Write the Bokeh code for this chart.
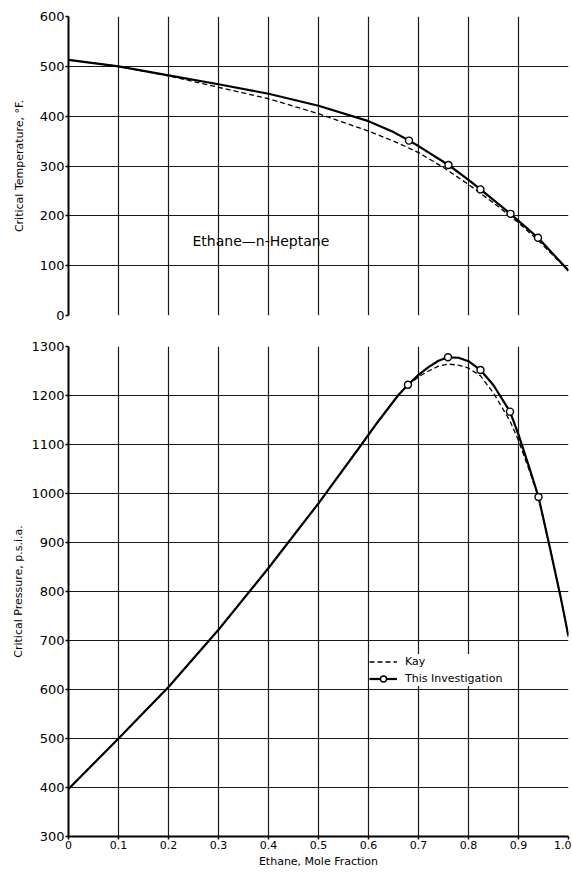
from bokeh.plotting import figure
from bokeh.layouts import column
from bokeh.models import FixedTicker, Legend, LegendItem, Label, Range1d
from bokeh.embed import file_html
from bokeh.resources import INLINE

FONT = "DejaVu Sans"

# ---- axis ticks / labels ----
x_ticks = [0, 0.1, 0.2, 0.3, 0.4, 0.5, 0.6, 0.7, 0.8, 0.9, 1.0]
x_tick_labels = ["0", "0.1", "0.2", "0.3", "0.4", "0.5", "0.6", "0.7", "0.8", "0.9", "1.0"]
x_grid_ticks = [0.1, 0.2, 0.3, 0.4, 0.5, 0.6, 0.7, 0.8, 0.9, 1.0]
t_ticks = [0, 100, 200, 300, 400, 500, 600]
t_grid_ticks = [100, 200, 300, 400, 500, 600]
p_ticks = [300, 400, 500, 600, 700, 800, 900, 1000, 1100, 1200, 1300]
p_grid_ticks = [400, 500, 600, 700, 800, 900, 1000, 1100, 1200]

# ---- critical temperature, deg F ----
t_this_x = [0, 0.1, 0.2, 0.3, 0.4, 0.5, 0.6, 0.65, 0.681, 0.7, 0.76, 0.8, 0.824, 0.884, 0.939, 1.0]
t_this_y = [513, 500, 482, 464, 445, 421, 390, 368, 351, 340, 302, 272, 253, 204, 156, 90]
t_pts_x = [0.681, 0.76, 0.824, 0.884, 0.939]
t_pts_y = [351, 302, 253, 204, 156]
t_kay_x = [0, 0.1, 0.2, 0.3, 0.4, 0.5, 0.6, 0.65, 0.7, 0.75, 0.8, 0.85, 0.9, 0.94, 1.0]
t_kay_y = [513, 500, 481, 458, 435, 405, 370, 350, 327, 297, 263, 226, 186, 150, 90]

# ---- critical pressure, psia ----
p_this_x = [0, 0.1, 0.2, 0.3, 0.4, 0.5, 0.586, 0.62, 0.659, 0.679, 0.7, 0.72, 0.74, 0.759,
            0.78, 0.8, 0.824, 0.85, 0.883, 0.9, 0.92, 0.94, 0.962, 0.984, 1.0]
p_this_y = [397, 500, 605, 722, 848, 980, 1100, 1148, 1200, 1222, 1242, 1258, 1271, 1278,
            1277, 1270, 1252, 1221, 1167, 1120, 1058, 993, 893, 790, 708]
p_pts_x = [0.679, 0.759, 0.824, 0.883, 0.94]
p_pts_y = [1222, 1278, 1252, 1167, 993]
p_kay_x = [0, 0.1, 0.2, 0.3, 0.4, 0.5, 0.586, 0.62, 0.659, 0.679, 0.7, 0.72, 0.74, 0.76,
           0.78, 0.8, 0.824, 0.85, 0.883, 0.9, 0.92, 0.94, 0.962, 0.984, 1.0]
p_kay_y = [397, 500, 605, 722, 848, 980, 1100, 1148, 1200, 1222, 1238, 1250, 1260, 1264,
           1262, 1256, 1240, 1205, 1148, 1108, 1052, 993, 893, 790, 708]


def style(p, yticks, ygrid, ylabel, label_standoff):
    p.outline_line_color = None
    p.background_fill_color = "white"
    p.border_fill_color = "white"
    p.xgrid.ticker = FixedTicker(ticks=x_grid_ticks)
    p.ygrid.ticker = FixedTicker(ticks=ygrid)
    for g in (p.xgrid, p.ygrid):
        g.grid_line_color = "black"
        g.grid_line_width = 1.2
        g.grid_line_alpha = 0.9
    ax = p.yaxis[0]
    ax.ticker = FixedTicker(ticks=yticks)
    ax.axis_line_color = "black"
    ax.axis_line_width = 2
    ax.major_tick_out = 3
    ax.major_tick_in = 0
    ax.minor_tick_out = 0
    ax.minor_tick_in = 0
    ax.major_tick_line_width = 1.5
    ax.major_label_standoff = 1
    ax.major_label_text_font = FONT
    ax.major_label_text_font_size = "13px"
    ax.major_label_text_color = "black"
    ax.axis_label = ylabel
    ax.axis_label_text_font = FONT
    ax.axis_label_text_font_size = "11px"
    ax.axis_label_text_font_style = "normal"
    ax.axis_label_text_color = "black"
    ax.axis_label_standoff = label_standoff


# ---------------- top: temperature ----------------
top = figure(width=571, height=330, x_range=Range1d(0, 1), y_range=Range1d(0, 600),
             x_axis_location=None, output_backend="svg", toolbar_location=None,
             min_border_left=68, min_border_right=3, min_border_top=16, min_border_bottom=15)
style(top, t_ticks, t_grid_ticks, "Critical Temperature, °F.", 11)

top.line(t_kay_x, t_kay_y, line_color="black", line_width=1.3, line_dash="5 3")
top.line(t_this_x, t_this_y, line_color="black", line_width=2.2)
top.scatter(t_pts_x, t_pts_y, marker="circle", size=7, fill_color="white",
            line_color="black", line_width=1.4)
top.add_layout(Label(x=0.248, y=150, text="Ethane\u2014n-Heptane", text_font=FONT,
                     text_font_size="14px", text_color="black", text_baseline="middle",
                     text_align="left"))

# ---------------- bottom: pressure ----------------
bot = figure(width=571, height=540, x_range=Range1d(0, 1), y_range=Range1d(300, 1300),
             output_backend="svg", toolbar_location=None,
             min_border_left=68, min_border_right=3, min_border_top=16, min_border_bottom=0)
style(bot, p_ticks, p_grid_ticks, "Critical Pressure, p.s.i.a.", 3)
xa = bot.xaxis[0]
xa.ticker = FixedTicker(ticks=x_ticks)
xa.major_label_overrides = {t: s for t, s in zip(x_ticks, x_tick_labels)}
xa.axis_line_color = "black"
xa.axis_line_width = 2
xa.major_tick_out = 3
xa.major_tick_in = 0
xa.minor_tick_out = 0
xa.minor_tick_in = 0
xa.major_tick_line_width = 1.5
xa.major_label_standoff = 1
xa.major_label_text_font = FONT
xa.major_label_text_font_size = "11px"
xa.major_label_text_color = "black"
xa.axis_label = "Ethane, Mole Fraction"
xa.axis_label_text_font = FONT
xa.axis_label_text_font_size = "11px"
xa.axis_label_text_font_style = "normal"
xa.axis_label_text_color = "black"
xa.axis_label_standoff = 3

kay = bot.line(p_kay_x, p_kay_y, line_color="black", line_width=1.3, line_dash="5 3")
this_line = bot.line(p_this_x, p_this_y, line_color="black", line_width=2.2)
this_pts = bot.scatter(p_pts_x, p_pts_y, marker="circle", size=7, fill_color="white",
                       line_color="black", line_width=1.4)

legend = Legend(items=[LegendItem(label="Kay", renderers=[kay]),
                       LegendItem(label="This Investigation", renderers=[this_line, this_pts])],
                location=(301, 150), orientation="vertical")
legend.background_fill_color = "white"
legend.background_fill_alpha = 1.0
legend.border_line_color = None
legend.label_text_font = FONT
legend.label_text_font_size = "11px"
legend.label_text_color = "black"
legend.glyph_width = 28
legend.glyph_height = 15
legend.label_height = 15
legend.label_standoff = 8
legend.spacing = 2
legend.padding = 7
legend.margin = 0
bot.add_layout(legend)

layout = column(top, bot, spacing=0)
open("out.html", "w").write(file_html(layout, INLINE))
